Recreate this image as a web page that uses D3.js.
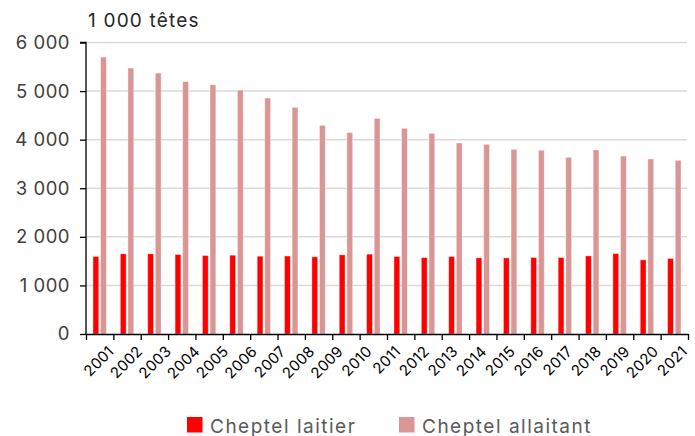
<!DOCTYPE html>
<html>
<head>
<meta charset="utf-8">
<script src="https://cdn.jsdelivr.net/npm/d3@7"></script>
<style>
  body { margin: 0; background: #fff; }
  text { font-family: Inter, 'Noto Sans', sans-serif; }
</style>
</head>
<body>
<script>
// 22 groupes de barres dans l'image, 21 libellés d'années
const years = ['2001', '2002', '2003', '2004', '2005', '2006', '2007', '2008', '2009', '2010', '2011',
               '2012', '2013', '2014', '2015', '2016', '2017', '2018', '2019', '2020', '2021'];
const laitier = [1595, 1650, 1650, 1636, 1615, 1622, 1601, 1605, 1588, 1629, 1643,
                 1595, 1574, 1595, 1567, 1567, 1574, 1574, 1608, 1656, 1526, 1554];
const allaitant = [5699, 5473, 5370, 5195, 5130, 5021, 4856, 4665, 4295, 4144, 4438,
                   4233, 4130, 3932, 3904, 3801, 3781, 3637, 3788, 3664, 3603, 3575];
const yTicks = [0, 1000, 2000, 3000, 4000, 5000, 6000];
const series = ['Cheptel laitier', 'Cheptel allaitant'];
const colors = ['#ff0000', '#da9694'];

const width = 695;
const height = 436;
const plotLeft = 86, plotRight = 688, plotTop = 42.5, plotBottom = 334;

const fr = d3.formatLocale({ decimal: ',', thousands: ' ', grouping: [3], currency: ['', ' €'] });

const svg = d3.select('body')
              .append('svg')
              .attr('width', width)
              .attr('height', height);

const xScale = d3.scaleBand()
                 .domain(d3.range(allaitant.length))
                 .range([plotLeft, plotRight]);

const xSub = d3.scaleBand()
               .domain(series)
               .range([xScale.bandwidth() / 2 - 6.7, xScale.bandwidth() / 2 + 6.7])
               .paddingInner(0.24);

const xLabels = d3.scaleBand()
                  .domain(years)
                  .range([plotLeft, plotRight]);

const xTicks = d3.scaleLinear()
                 .domain([0, allaitant.length])
                 .range([plotLeft, plotRight]);

const yScale = d3.scaleLinear()
                 .domain([0, 6000])
                 .range([plotBottom, plotTop]);

// grille
svg.append('g')
   .selectAll('line')
   .data(yTicks.slice(1))
   .enter()
   .append('line')
   .attr('x1', plotLeft)
   .attr('x2', plotRight - 1)
   .attr('y1', (d) => yScale(d))
   .attr('y2', (d) => yScale(d))
   .style('stroke', '#d9d9d9')
   .style('stroke-width', 1.5);

// barres
const groups = svg.append('g')
                  .selectAll('g')
                  .data(laitier.map((d, i) => ({ i: i, values: [d, allaitant[i]] })))
                  .enter()
                  .append('g')
                  .attr('transform', (d) => 'translate(' + xScale(d.i) + ',0)');

groups.selectAll('rect')
      .data((d) => d.values)
      .enter()
      .append('rect')
      .attr('x', (d, i) => xSub(series[i]))
      .attr('y', (d) => yScale(d))
      .attr('width', xSub.bandwidth())
      .attr('height', (d) => yScale(0) - yScale(d))
      .attr('fill', (d, i) => colors[i])
      .style('stroke', 'rgba(255,255,255,0.45)')
      .style('stroke-width', 0.8);

// axe y
const yAxis = d3.axisLeft(yScale)
                .tickValues(yTicks)
                .tickSize(6)
                .tickPadding(10)
                .tickFormat(fr.format(','));

const gy = svg.append('g')
              .attr('transform', 'translate(' + plotLeft + ',0)')
              .call(yAxis);
gy.select('.domain').attr('d', 'M-6,' + plotTop + 'H0V' + plotBottom);
gy.selectAll('line').style('stroke', '#000').style('stroke-width', 1.3);
gy.select('.domain').style('stroke', '#000').style('stroke-width', 1.3);
gy.selectAll('text')
  .style('font-size', '18.5px')
  .style('letter-spacing', '0.5px')
  .style('fill', '#404040');

// axe x
const xAxis = d3.axisBottom(xTicks)
                .tickValues(d3.range(allaitant.length + 1))
                .tickSize(6)
                .tickSizeOuter(0)
                .tickFormat('');

const gx = svg.append('g')
              .attr('transform', 'translate(0,' + plotBottom + ')')
              .call(xAxis);
gx.selectAll('line').style('stroke', '#000').style('stroke-width', 1.3);
gx.select('.domain').style('stroke', '#000').style('stroke-width', 1.3);

svg.append('g')
   .selectAll('text')
   .data(years)
   .enter()
   .append('text')
   .attr('transform', (d) => 'translate(' + (xLabels(d) + xLabels.bandwidth() / 2 + 7) + ',' + (plotBottom + 11) + ') rotate(-45)')
   .attr('text-anchor', 'end')
   .attr('dy', '0.7em')
   .style('font-size', '15px')
   .style('letter-spacing', '0.2px')
   .style('fill', '#000')
   .text((d) => d);

// titre de l'axe
svg.append('text')
   .attr('x', 88)
   .attr('y', 27)
   .style('font-size', '19px')
   .style('letter-spacing', '1.2px')
   .style('fill', '#262626')
   .text('1 000 têtes');

// légende
const legendX = [187, 399];
const legend = svg.append('g')
                  .selectAll('g')
                  .data(series)
                  .enter()
                  .append('g')
                  .attr('transform', (d, i) => 'translate(' + legendX[i] + ',417)');

legend.append('rect')
      .attr('width', 15.5)
      .attr('height', 15.5)
      .attr('fill', (d, i) => colors[i]);

legend.append('text')
      .attr('x', 23)
      .attr('y', 15.5)
      .style('font-size', '19px')
      .style('letter-spacing', '1.5px')
      .style('fill', '#595959')
      .text((d) => d);
</script>
</body>
</html>
